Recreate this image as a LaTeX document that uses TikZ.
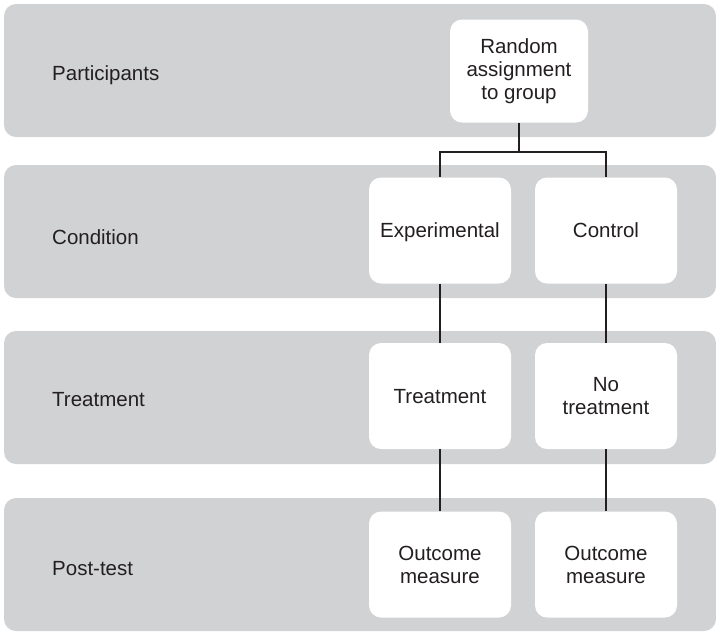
\documentclass[tikz,border=0pt]{standalone}
\usepackage{fontspec}
\setmainfont{Liberation Sans}
\definecolor{band}{HTML}{D1D2D4}
\definecolor{ink}{HTML}{231F20}
\begin{document}
\begin{tikzpicture}[x=1pt,y=-1pt,
  bandbox/.style={fill=band, rounded corners=12pt, minimum width=712pt, minimum height=133pt, inner sep=0pt, draw=none},
  rowlabel/.style={anchor=base west, text=ink, font=\fontsize{20.5pt}{23pt}\selectfont, inner sep=0pt},
  stage/.style={fill=white, rounded corners=12pt, minimum width=142pt, minimum height=106pt, inner sep=0pt, align=center, text=ink, font=\fontsize{20.5pt}{23pt}\selectfont},
  oneline/.style={text height=14.7pt, text depth=0pt},
  link/.style={draw=ink, line width=1.2pt}]
\useasboundingbox (0,0) rectangle (716,633);
\node[bandbox] (b1) at (360,70.5) {};
\node[bandbox] (b2) at (360,231.5) {};
\node[bandbox] (b3) at (360,397.5) {};
\node[bandbox] (b4) at (360,564.5) {};
\node[rowlabel] (l1) at (52,80) {Participants};
\node[rowlabel] (l2) at (52,244) {Condition};
\node[rowlabel] (l3) at (52,406) {Treatment};
\node[rowlabel] (l4) at (52,575) {Post-test};
\node[stage, minimum width=138pt, minimum height=103pt] (rand) at (519,71) {Random\\assignment\\to group};
\node[stage, oneline] (exp) at (440,230.5) {Experimental};
\node[stage, oneline] (ctrl) at (606,230.5) {Control};
\node[stage, oneline] (treat) at (440,396) {Treatment};
\node[stage] (notreat) at (606,396) {No\\treatment};
\node[stage] (out1) at (440,564.5) {Outcome\\measure};
\node[stage] (out2) at (606,564.5) {Outcome\\measure};
\coordinate (split) at (519,152);
\draw[link] (rand.south) -- (split);
\draw[link] (split) -| (exp.north);
\draw[link] (split) -| (ctrl.north);
\draw[link] (exp.south) -- (treat.north);
\draw[link] (ctrl.south) -- (notreat.north);
\draw[link] (treat.south) -- (out1.north);
\draw[link] (notreat.south) -- (out2.north);
\end{tikzpicture}
\end{document}
